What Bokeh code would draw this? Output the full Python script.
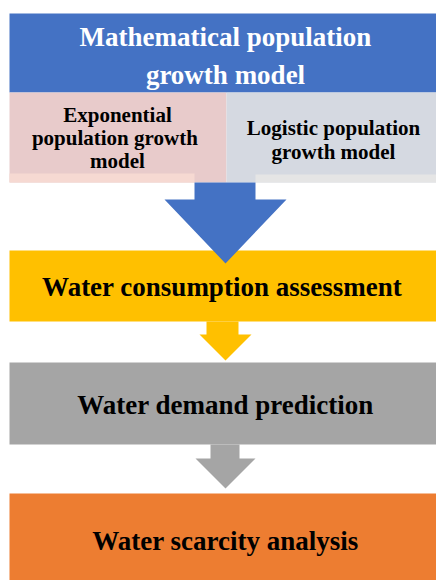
from bokeh.plotting import figure
from bokeh.models import Range1d
from bokeh.core.properties import value
from bokeh.embed import file_html
from bokeh.resources import INLINE

# ---- content ----
title_lines = ["Mathematical population", "growth model"]
left_lines = ["Exponential", "population  growth", "model"]
right_lines = ["Logistic population", "growth model"]
stage_labels = ["Water consumption  assessment", "Water demand prediction", "Water scarcity analysis"]
stage_colors = ["#FFC000", "#A5A5A5", "#ED7D31"]
top_color = "#4472C4"
left_color = "#E8CBCB"
left_strip = "#F6D9D2"
right_color = "#D5D9E1"
right_strip = "#E5E5E5"

# ---- layout (pixel coordinates of the page picture) ----
X0, X1 = 9, 436
top_box = (13, 92)
sub_box = (92, 182)
split_x = 226
strip_y = 173
stage_boxes = [(250, 321), (362, 444), (493, 580)]
arrows = [
    # shaft_x0, shaft_x1, head_x0, head_x1, y_top, y_head, y_tip, color
    (194, 255, 164, 286, 182, 199, 263, top_color),
    (206, 238, 199, 251, 321, 334, 360, stage_colors[0]),
    (210, 239, 195, 255, 444, 458, 488, stage_colors[1]),
]

FONT = value("Liberation Serif")

p = figure(width=436, height=580, output_backend="svg", toolbar_location=None,
           x_range=Range1d(0, 436), y_range=Range1d(580, 0), min_border=0)
p.axis.visible = False
p.grid.visible = False
p.outline_line_color = None
p.background_fill_color = "white"
p.border_fill_color = "white"

# top box
p.quad(left=X0, right=X1, top=top_box[0], bottom=top_box[1], fill_color=top_color, line_color=None)
# sub boxes
p.quad(left=X0, right=split_x, top=sub_box[0], bottom=sub_box[1], fill_color=left_color, line_color=None)
p.quad(left=split_x, right=X1, top=sub_box[0], bottom=sub_box[1], fill_color=right_color, line_color=None)
p.quad(left=X0, right=arrows[0][0], top=strip_y, bottom=sub_box[1], fill_color=left_strip, line_color=None)
p.quad(left=arrows[0][1], right=X1, top=strip_y + 1, bottom=sub_box[1], fill_color=right_strip, line_color=None)

# stage boxes
for (y0, y1), c in zip(stage_boxes, stage_colors):
    p.quad(left=X0, right=X1, top=y0, bottom=y1, fill_color=c, line_color=None)

# arrows
for sx0, sx1, hx0, hx1, yt, yh, ytip, c in arrows:
    cx = (hx0 + hx1) / 2
    xs = [sx0, sx1, sx1, hx1, cx, hx0, sx0]
    ys = [yt, yt, yh, yh, ytip, yh, yh]
    p.patch(xs, ys, fill_color=c, line_color=None)

# texts
p.text(x=[225] * 2, y=[36, 74], text=title_lines, text_font=FONT, text_font_style="bold",
       text_font_size="27px", text_color="white", text_align="center", text_baseline="middle")
p.text(x=[117] * 3, y=[114, 137, 160], text=left_lines, text_font=FONT, text_font_style="bold",
       text_font_size="21px", text_color="black", text_align="center", text_baseline="middle")
p.text(x=[333] * 2, y=[127, 151], text=right_lines, text_font=FONT, text_font_style="bold",
       text_font_size="21px", text_color="black", text_align="center", text_baseline="middle")
p.text(x=[225] * 3, y=[286, 404, 540], text=stage_labels, text_font=FONT, text_font_style="bold",
       text_font_size="27px", text_color="black", text_align="center", text_baseline="middle")

open("out.html", "w").write(file_html(p, INLINE))
